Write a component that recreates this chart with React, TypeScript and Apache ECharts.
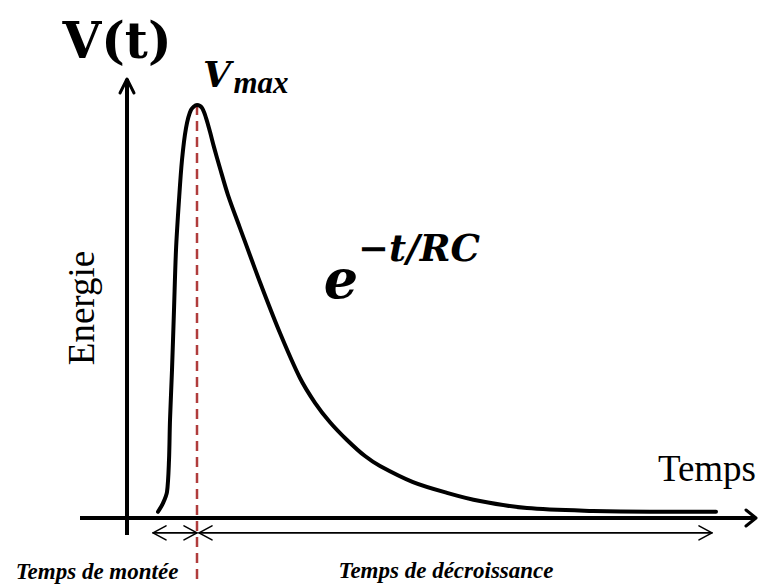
import React, { useEffect, useRef } from "react";
import * as echarts from "echarts";

// ---- data (t in time units, V in % of the peak value) ----
const pulseT = [3.1, 3.6, 4.0, 4.2, 4.3, 4.5, 4.7, 4.9, 5.2, 5.5, 5.9, 6.4, 7.0, 7.5, 7.9, 8.3, 8.7, 9.3, 10.1, 11.3, 13.3, 15.3, 17.3, 18.8, 20.3, 22.0, 23.8, 25.3, 28.6, 32.0, 35.3, 40.0, 46.6, 52.3, 58.9];
const pulseV = [1.5, 3.6, 6.3, 14.0, 23.7, 35.8, 50.4, 64.9, 77.0, 86.7, 94.4, 98.8, 100, 99.3, 96.9, 93.5, 89.8, 84.7, 78.2, 70.2, 57.1, 44.8, 33.9, 27.9, 23.2, 18.9, 15.0, 12.6, 8.7, 6.1, 4.1, 2.4, 1.7, 1.5, 1.5];
const peakT = 7.0;
const peakV = 100;
const timeAxisRange = [-4.7, 62.9];
const energyAxisRange = [-4.1, 106.3];
const markerDropV = -16;
const spanLevel = -3.6;
const riseSpan = [2.6, 7.0];
const decaySpan = [7.2, 58.5];
const labels = {
  title: "V(t)",
  vmaxMain: "V",
  vmaxSub: "max",
  expBase: "e",
  expPower: "\u2212t/RC",
  yName: "Energie",
  xName: "Temps",
  rise: "Temps de mont\u00e9e",
  decay: "Temps de d\u00e9croissance",
};

// ---- layout (pixel scale of the data) ----
const W = 758;
const H = 584;
const PX_T = 10; // px per time unit
const PX_V = 4.13; // px per V unit
const X_MIN = -127 / PX_T;
const X_MAX = X_MIN + W / PX_T;
const Y_MIN = -(H - 518) / PX_V;
const Y_MAX = Y_MIN + H / PX_V;

type Pt = [number, number];

function chevron(tip: Pt, dir: "left" | "right" | "up", len: number, half: number): Pt[] {
  const [t, v] = tip;
  if (dir === "up") {
    return [
      [t - half / PX_T, v - len / PX_V],
      [t, v],
      [t + half / PX_T, v - len / PX_V],
    ];
  }
  const s = dir === "right" ? -1 : 1;
  return [
    [t + (s * len) / PX_T, v + half / PX_V],
    [t, v],
    [t + (s * len) / PX_T, v - half / PX_V],
  ];
}

function lineSeries(data: Pt[], width: number, color = "#000", extra: any = {}) {
  return {
    type: "line",
    data,
    symbol: "none",
    silent: true,
    clip: false,
    lineStyle: { color, width, cap: "round", join: "round", ...(extra.lineStyle || {}) },
    z: extra.z ?? 2,
    smooth: extra.smooth ?? false,
  };
}

export default function App() {
  const ref = useRef<HTMLDivElement>(null);
  useEffect(() => {
    if (!ref.current) return;
    const chart = echarts.init(ref.current, null, { renderer: "svg" });
    const pulse: Pt[] = pulseT.map((t, i) => [t, pulseV[i]]);
    const serif = "'Liberation Serif', 'DejaVu Serif', serif";
    const dserif = "'DejaVu Serif', serif";
    const option: any = {
      animation: false,
      backgroundColor: "#fff",
      grid: { left: 0, right: 0, top: 0, bottom: 0 },
      xAxis: { type: "value", min: X_MIN, max: X_MAX, show: false },
      yAxis: { type: "value", min: Y_MIN, max: Y_MAX, show: false },
      series: [
        lineSeries([[peakT, peakV], [peakT, markerDropV]], 2.5, "#b03c3c", {
          lineStyle: { type: [10, 6], cap: "butt" },
          z: 1,
        }),
        lineSeries([[timeAxisRange[0], 0], [timeAxisRange[1], 0]], 4, "#000", { lineStyle: { cap: "butt" } }),
        lineSeries([[0, energyAxisRange[0]], [0, energyAxisRange[1]]], 4, "#000", { lineStyle: { cap: "butt" } }),
        lineSeries(chevron([timeAxisRange[1], 0], "right", 10, 8), 3),
        lineSeries(chevron([0, energyAxisRange[1]], "up", 14, 7), 3),
        lineSeries([[riseSpan[0], spanLevel], [riseSpan[1], spanLevel]], 1.6),
        lineSeries([[decaySpan[0], spanLevel], [decaySpan[1], spanLevel]], 1.6),
        lineSeries(chevron([riseSpan[0], spanLevel], "left", 13, 7), 1.6),
        lineSeries(chevron([riseSpan[1], spanLevel], "right", 13, 7), 1.6),
        lineSeries(chevron([decaySpan[0], spanLevel], "left", 13, 7), 1.6),
        lineSeries(chevron([decaySpan[1], spanLevel], "right", 13, 7), 1.6),
        lineSeries(pulse, 4, "#000", { smooth: 0.3, z: 3 }),
      ],
      graphic: [
        {
          type: "text",
          x: 117,
          y: 40,
          style: { text: labels.title, font: `bold 50px ${dserif}`, fill: "#000", align: "center", verticalAlign: "middle" },
        },
        {
          type: "text",
          x: 217,
          y: 74,
          style: { text: labels.vmaxMain, font: `italic bold 36px ${dserif}`, fill: "#000", align: "center", verticalAlign: "middle" },
        },
        {
          type: "text",
          x: 261,
          y: 82,
          style: { text: labels.vmaxSub, font: `italic bold 31px ${serif}`, fill: "#000", align: "center", verticalAlign: "middle" },
        },
        {
          type: "text",
          x: 341,
          y: 279,
          style: { text: labels.expBase, font: `italic bold 54px ${dserif}`, fill: "#000", align: "center", verticalAlign: "middle" },
        },
        {
          type: "text",
          x: 419,
          y: 248,
          style: { text: labels.expPower, font: `italic bold 37px ${dserif}`, fill: "#000", align: "center", verticalAlign: "middle" },
        },
        {
          type: "text",
          x: 81,
          y: 308,
          rotation: Math.PI / 2,
          style: { text: labels.yName, font: `37px ${serif}`, fill: "#000", align: "center", verticalAlign: "middle" },
        },
        {
          type: "text",
          x: 756,
          y: 468,
          style: { text: labels.xName, font: `37px ${serif}`, fill: "#000", align: "right", verticalAlign: "middle" },
        },
        {
          type: "text",
          x: 97,
          y: 571,
          style: { text: labels.rise, font: `italic bold 23px ${serif}`, fill: "#000", align: "center", verticalAlign: "middle" },
        },
        {
          type: "text",
          x: 446,
          y: 570,
          style: { text: labels.decay, font: `italic bold 23px ${serif}`, fill: "#000", align: "center", verticalAlign: "middle" },
        },
      ],
    };
    chart.setOption(option);
    return () => chart.dispose();
  }, []);
  return (
    <div
      ref={ref}
      style={{ position: "absolute", left: 0, top: 0, width: W, height: H, background: "#fff" }}
    />
  );
}
